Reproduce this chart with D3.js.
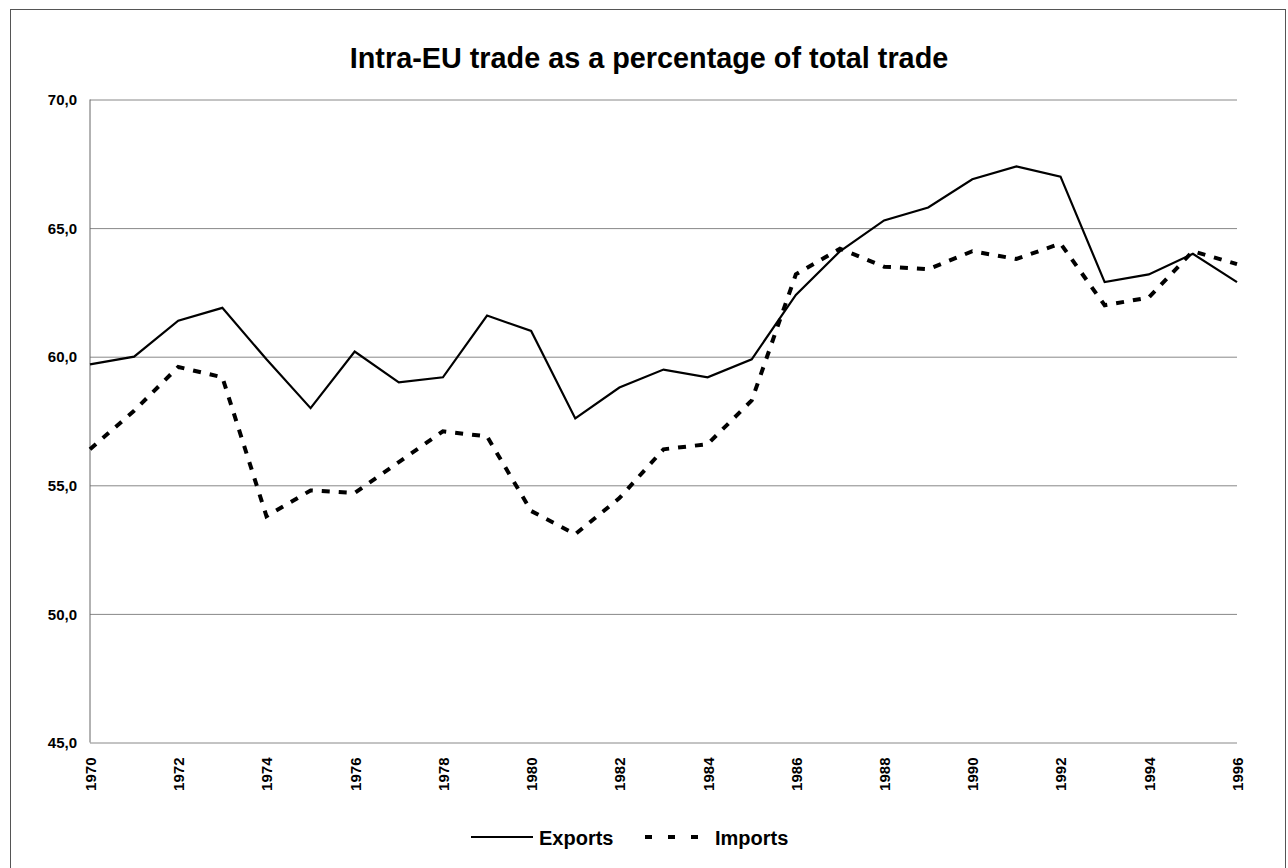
<!DOCTYPE html>
<html>
<head>
<meta charset="utf-8">
<script src="https://cdn.jsdelivr.net/npm/d3@7"></script>
<style>
  body { margin: 0; background: #fff; }
  svg { display: block; font-family: "Liberation Sans", Arial, sans-serif; }
</style>
</head>
<body>
<div id="chart"></div>
<script>
// data
const years = d3.range(1970, 1997);
const exportsPct = [59.7, 60.0, 61.4, 61.9, 59.9, 58.0, 60.2, 59.0, 59.2, 61.6,
                    61.0, 57.6, 58.8, 59.5, 59.2, 59.9, 62.4, 64.1, 65.3, 65.8,
                    66.9, 67.4, 67.0, 62.9, 63.2, 64.0, 62.9];
const importsPct = [56.4, 57.9, 59.6, 59.2, 53.8, 54.8, 54.7, 55.9, 57.1, 56.9,
                    54.0, 53.1, 54.5, 56.4, 56.6, 58.3, 63.2, 64.2, 63.5, 63.4,
                    64.1, 63.8, 64.4, 62.0, 62.3, 64.1, 63.6];
const yTicks = [45, 50, 55, 60, 65, 70];
const xTicks = d3.range(1970, 1997, 2);
const titleText = "Intra-EU trade as a percentage of total trade";

const W = 1288, H = 868;
const svg = d3.select("#chart").append("svg")
  .attr("width", W)
  .attr("height", H);

// page frame
svg.append("rect")
  .attr("x", 10.5).attr("y", 9.5)
  .attr("width", 1275).attr("height", 880)
  .attr("fill", "none")
  .attr("stroke", "#555")
  .attr("stroke-width", 1);

let x = d3.scaleLinear().domain([1970, 1996]).range([90, 1237]);
let y = d3.scaleLinear().domain([45, 70]).range([742.5, 99.5]);

// horizontal gridlines + y labels
svg.append("g")
  .attr("transform", "translate(90,0)")
  .call(d3.axisLeft(y).tickValues(yTicks).tickSize(-(1237 - 90)).tickFormat(d => d.toFixed(1).replace(".", ",")))
  .call(g => g.select(".domain").remove())
  .call(g => g.selectAll(".tick line").attr("stroke", "#888").attr("stroke-width", 1))
  .call(g => g.selectAll(".tick text")
    .attr("x", -13)
    .attr("dy", "0.35em")
    .attr("font-size", 15)
    .attr("font-weight", "bold")
    .attr("font-family", "Liberation Sans, Arial, sans-serif")
    .attr("fill", "#000"));

// left axis line
svg.append("line")
  .attr("x1", 90).attr("x2", 90)
  .attr("y1", 99.5).attr("y2", 742.5)
  .attr("stroke", "#666")
  .attr("stroke-width", 1);

// x axis labels (rotated)
svg.append("g")
  .attr("transform", "translate(0,742.5)")
  .call(d3.axisBottom(x).tickValues(xTicks).tickSize(0).tickFormat(d3.format("d")))
  .call(g => g.select(".domain").remove())
  .call(g => g.selectAll(".tick text")
    .attr("transform", "rotate(-90)")
    .attr("x", -15)
    .attr("y", 0)
    .attr("dy", "0.36em")
    .attr("text-anchor", "end")
    .attr("font-size", 15)
    .attr("font-weight", "bold")
    .attr("font-family", "Liberation Sans, Arial, sans-serif")
    .attr("fill", "#000"));

let line = d3.line()
  .x((d, i) => x(years[i]))
  .y(d => y(d));

svg.append("path")
  .datum(importsPct)
  .attr("d", line)
  .attr("fill", "none")
  .attr("stroke", "#000")
  .attr("stroke-width", 4)
  .attr("stroke-dasharray", "8,9");

svg.append("path")
  .datum(exportsPct)
  .attr("d", line)
  .attr("fill", "none")
  .attr("stroke", "#000")
  .attr("stroke-width", 2.2);

// title
svg.append("text")
  .attr("x", 649).attr("y", 68)
  .attr("text-anchor", "middle")
  .attr("font-size", 28.8)
  .attr("font-weight", "bold")
  .text(titleText);

// legend
const legend = svg.append("g");
legend.append("line")
  .attr("x1", 471).attr("x2", 533)
  .attr("y1", 837).attr("y2", 837)
  .attr("stroke", "#000").attr("stroke-width", 2.2);
legend.append("text")
  .attr("x", 539).attr("y", 845)
  .attr("font-size", 20).attr("font-weight", "bold")
  .text("Exports");
legend.append("line")
  .attr("x1", 645).attr("x2", 700)
  .attr("y1", 837).attr("y2", 837)
  .attr("stroke", "#000").attr("stroke-width", 4)
  .attr("stroke-dasharray", "7,16");
legend.append("text")
  .attr("x", 715).attr("y", 845)
  .attr("font-size", 20).attr("font-weight", "bold")
  .text("Imports");
</script>
</body>
</html>
